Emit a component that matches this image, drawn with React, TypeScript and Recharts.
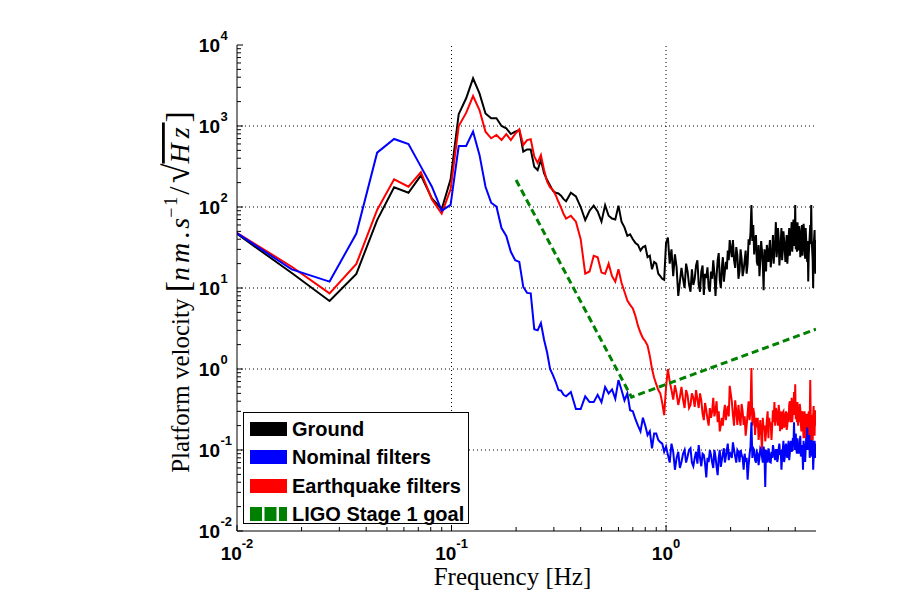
import React from 'react';
import { LineChart, Line, XAxis, YAxis, ReferenceLine, Legend, Label } from 'recharts';

// Frequencies [Hz]
const freq = [
  0.009, 0.018, 0.027, 0.036, 0.045, 0.054, 0.063, 0.072, 0.081, 0.09,
  0.099, 0.108, 0.117, 0.126, 0.135, 0.144, 0.153, 0.162, 0.171, 0.18,
  0.189, 0.198, 0.207, 0.216, 0.225, 0.234, 0.243, 0.252, 0.261, 0.27,
  0.279, 0.288, 0.297, 0.306, 0.315, 0.324, 0.333, 0.342,
  0.36, 0.38, 0.4, 0.42, 0.44, 0.46, 0.48, 0.5, 0.52, 0.54,
  0.56, 0.58, 0.6, 0.62, 0.64, 0.66, 0.68, 0.7, 0.72, 0.74,
  0.76, 0.78, 0.8, 0.82, 0.84, 0.86, 0.88, 0.9, 0.92, 0.94,
  0.96, 0.98, 1.0,
  1.02, 1.04, 1.06, 1.08, 1.1, 1.12, 1.14, 1.16, 1.18, 1.2,
  1.22, 1.24, 1.26, 1.28, 1.3, 1.32, 1.34, 1.36, 1.38, 1.4,
  1.42, 1.44, 1.46, 1.48, 1.5, 1.52, 1.54, 1.56, 1.58, 1.6,
  1.62, 1.64, 1.66, 1.68, 1.7, 1.72, 1.74, 1.76, 1.78, 1.8,
  1.82, 1.84, 1.86, 1.88, 1.9, 1.92, 1.94, 1.96, 1.98,
  2.025, 2.05, 2.075, 2.1, 2.125, 2.15, 2.175, 2.2, 2.225, 2.25,
  2.275, 2.3, 2.325, 2.35, 2.375, 2.4, 2.425, 2.45, 2.475, 2.5,
  2.525, 2.55, 2.575, 2.6, 2.625, 2.65, 2.675, 2.7, 2.725, 2.75,
  2.775, 2.8, 2.825, 2.85, 2.875, 2.9, 2.925, 2.95, 2.975, 3.0,
  3.025, 3.05, 3.075, 3.1, 3.125, 3.15, 3.175, 3.2, 3.225, 3.25,
  3.275, 3.3, 3.325, 3.35, 3.375, 3.4, 3.425, 3.45, 3.475, 3.5,
  3.525, 3.55, 3.575, 3.6, 3.625, 3.65, 3.675, 3.7, 3.725, 3.75,
  3.775, 3.8, 3.825, 3.85, 3.875, 3.9, 3.925, 3.95, 3.975, 4.0,
  4.025, 4.05, 4.075, 4.1, 4.125, 4.15, 4.175, 4.2, 4.225, 4.25,
  4.275, 4.3, 4.325, 4.35, 4.375, 4.4, 4.425, 4.45, 4.475, 4.5,
  4.525, 4.55, 4.575, 4.6, 4.625, 4.65, 4.675, 4.7, 4.725, 4.75,
  4.775, 4.8, 4.825, 4.85, 4.875, 4.9, 4.925, 4.95, 4.975, 5.0,
];

const ground = [
  57, 15.3, 6.9, 14.9, 69, 175, 150, 246, 128, 94,
  220, 1400, 2200, 3880, 2530, 1430, 1245, 1245, 1000, 936,
  796, 851, 892, 482, 513, 513, 315, 286, 380, 261,
  215, 185, 158, 150, 147, 138, 125, 118,
  150, 135, 100, 69, 90, 104, 88, 66, 105, 78,
  72, 70, 104, 66, 56, 44, 46, 40, 36, 34,
  29, 32, 33, 24, 25, 17, 21, 20, 15, 14,
  13, 12.6, 36,
  42, 20, 30, 14, 26, 18, 8, 12, 17.7, 13,
  10, 20, 16, 11, 9, 17, 10.9, 13, 19, 22,
  10.9, 9, 16, 19, 8.2, 15, 13.3, 18, 10, 9,
  16, 13, 22, 15, 8, 14, 22, 27, 12.6, 10,
  17.7, 24, 12, 16, 21, 17, 29, 22, 39,
  24, 39, 22, 17.7, 32, 25.5, 13, 16, 30, 23,
  14, 16.7, 22, 29, 15, 20, 40, 34, 48, 106,
  38, 60, 26, 39, 45, 21, 19, 34, 14, 21,
  38, 29, 20, 9.4, 30, 25.5, 16, 34, 26, 21,
  30, 39, 18, 23, 30, 45, 20, 29, 38, 65,
  24, 31, 55, 41, 19, 25.5, 36, 55, 22, 29,
  50, 39, 30, 21, 33, 45, 20, 27, 40, 55,
  25, 34, 46, 65, 28, 39, 70, 52, 33, 106,
  30, 41, 28, 65, 36, 29, 58, 49, 24, 31,
  44, 60, 25, 34, 62, 49, 32, 23, 55, 39,
  30, 21, 38, 12, 26, 34, 45, 60, 35, 106,
  40, 29, 22, 10, 33, 41, 52, 21, 15, 39,
];

const nominal = [
  57, 17, 12, 47, 469, 692, 600, 315, 178, 90,
  106, 566, 566, 851, 440, 178, 113, 101, 55, 44,
  28, 22, 21, 10.3, 8.7, 8.6, 3.1, 3.0, 3.7, 2.3,
  1.6, 1.0, 0.84, 0.69, 0.55, 0.54, 0.48, 0.46,
  0.52, 0.32, 0.32, 0.46, 0.39, 0.39, 0.48, 0.39, 0.6, 0.5,
  0.56, 0.43, 0.73, 0.55, 0.41, 0.5, 0.31, 0.3, 0.24, 0.2,
  0.17, 0.25, 0.2, 0.153, 0.17, 0.105, 0.16, 0.16, 0.133, 0.125,
  0.12, 0.095, 0.11,
  0.087, 0.07, 0.12, 0.095, 0.057, 0.08, 0.095, 0.06, 0.071, 0.09,
  0.1, 0.07, 0.083, 0.1, 0.105, 0.07, 0.063, 0.08, 0.095, 0.068,
  0.115, 0.08, 0.063, 0.09, 0.087, 0.068, 0.046, 0.08, 0.071, 0.1,
  0.087, 0.07, 0.06, 0.1, 0.083, 0.062, 0.049, 0.08, 0.1, 0.062,
  0.075, 0.09, 0.105, 0.07, 0.083, 0.1, 0.12, 0.075, 0.095,
  0.08, 0.124, 0.1, 0.083, 0.07, 0.1, 0.095, 0.071, 0.1, 0.087,
  0.08, 0.057, 0.09, 0.071, 0.08, 0.043, 0.065, 0.087, 0.11, 0.22,
  0.08, 0.105, 0.1, 0.075, 0.07, 0.095, 0.09, 0.065, 0.08, 0.105,
  0.1, 0.083, 0.07, 0.11, 0.09, 0.035, 0.1, 0.087, 0.07, 0.105,
  0.09, 0.071, 0.07, 0.095, 0.08, 0.115, 0.1, 0.083, 0.075, 0.1,
  0.1, 0.071, 0.08, 0.105, 0.12, 0.087, 0.1, 0.057, 0.08, 0.1,
  0.13, 0.071, 0.08, 0.11, 0.12, 0.087, 0.08, 0.105, 0.13, 0.075,
  0.09, 0.115, 0.13, 0.095, 0.1, 0.14, 0.11, 0.22, 0.1, 0.133,
  0.16, 0.1, 0.09, 0.14, 0.09, 0.11, 0.09, 0.124, 0.15, 0.083,
  0.1, 0.115, 0.09, 0.057, 0.13, 0.1, 0.12, 0.071, 0.1, 0.14,
  0.1, 0.19, 0.1, 0.115, 0.1, 0.153, 0.08, 0.095, 0.1, 0.133,
  0.1, 0.083, 0.13, 0.057, 0.08, 0.115, 0.13, 0.087, 0.08, 0.12,
];

const earthquake = [
  57, 18.3, 8.6, 19.8, 92, 220, 178, 270, 124, 83,
  165, 1000, 1450, 2345, 1576, 851, 705, 774, 671, 796,
  671, 800, 910, 582, 671, 687, 420, 350, 437, 286,
  205, 175, 162, 140, 116, 98, 82, 72,
  78, 66, 40, 15, 16, 25, 24, 15.5, 15, 20,
  14, 12, 17, 11.6, 9, 7, 6.2, 5.6, 4.5, 3.4,
  2.8, 2.4, 2.2, 1.95, 1.45, 1.0, 0.78, 0.65, 0.55, 0.5,
  0.38, 0.27, 0.6,
  1.0, 0.7, 0.55, 0.42, 0.63, 0.5, 0.36, 0.45, 0.6, 0.42,
  0.33, 0.55, 0.47, 0.33, 0.36, 0.5, 0.44, 0.34, 0.55, 0.42,
  0.33, 0.5, 0.41, 0.28, 0.234, 0.38, 0.31, 0.24, 0.2, 0.33,
  0.25, 0.3, 0.44, 0.26, 0.31, 0.4, 0.22, 0.3, 0.17, 0.2,
  0.25, 0.2, 0.29, 0.36, 0.234, 0.3, 0.35, 0.26, 0.62,
  0.4, 0.27, 0.2, 0.41, 0.3, 0.204, 0.36, 0.25, 0.2, 0.37,
  0.3, 0.204, 0.26, 0.15, 0.2, 0.28, 0.4, 0.234, 0.3, 1.03,
  0.2, 0.33, 0.28, 0.153, 0.25, 0.19, 0.25, 0.133, 0.17, 0.234,
  0.16, 0.096, 0.25, 0.177, 0.2, 0.128, 0.16, 0.234, 0.3, 0.14,
  0.25, 0.204, 0.22, 0.133, 0.2, 0.31, 0.22, 0.39, 0.2, 0.33,
  0.3, 0.234, 0.2, 0.36, 0.29, 0.17, 0.3, 0.25, 0.18, 0.29,
  0.3, 0.19, 0.2, 0.27, 0.3, 0.177, 0.2, 0.29, 0.22, 0.36,
  0.4, 0.25, 0.22, 0.44, 0.22, 0.31, 0.3, 0.52, 0.27, 0.65,
  0.24, 0.31, 0.22, 0.39, 0.2, 0.27, 0.22, 0.37, 0.32, 0.204,
  0.17, 0.29, 0.3, 0.19, 0.14, 0.25, 0.3, 0.17, 0.14, 0.234,
  0.28, 0.15, 0.13, 0.204, 0.3, 0.133, 0.24, 0.73, 0.25, 0.087,
  0.27, 0.17, 0.13, 0.27, 0.35, 0.19, 0.15, 0.31, 0.2, 0.25,
];

// LIGO Stage 1 goal
const goalFreq = [0.2, 0.69, 5.0];
const goalValue = [215, 0.45, 3.1];

// Ticks
const xMajorTicks = [0.01, 0.1, 1];
const xTickExponents = ['-2', '-1', '0'];
const xMinorTicks = [0.02, 0.03, 0.04, 0.05, 0.06, 0.07, 0.08, 0.09, 0.2, 0.3, 0.4, 0.5, 0.6, 0.7, 0.8, 0.9, 2, 3, 4];
const yMajorTicks = [0.01, 0.1, 1, 10, 100, 1000, 10000];
const yTickExponents = ['-2', '-1', '0', '1', '2', '3', '4'];
const yMinorTicks = [
  0.02, 0.03, 0.04, 0.05, 0.06, 0.07, 0.08, 0.09,
  0.2, 0.3, 0.4, 0.5, 0.6, 0.7, 0.8, 0.9,
  2, 3, 4, 5, 6, 7, 8, 9,
  20, 30, 40, 50, 60, 70, 80, 90,
  200, 300, 400, 500, 600, 700, 800, 900,
  2000, 3000, 4000, 5000, 6000, 7000, 8000, 9000,
];
const xDomain = [0.01, 5];
const yDomain = [0.01, 10000];
const xGridValues = [0.1, 1];
const yGridValues = [0.1, 1, 10, 100, 1000];

const seriesNames = ['Ground', 'Nominal filters', 'Earthquake filters', 'LIGO Stage 1 goal'];
const seriesColors = ['#000000', '#0000ff', '#ff0000', '#008000'];

const rows = freq.map((f, i) => ({ f, ground: ground[i], nominal: nominal[i], earthquake: earthquake[i] }));
const goalRows = goalFreq.map((f, i) => ({ f, goal: goalValue[i] }));

const SANS = '"Liberation Sans", Arial, Helvetica, sans-serif';
const SERIF = '"Liberation Serif", "Times New Roman", serif';
const MAJOR_LEN = 6;
const MINOR_LEN = 4;

const allXTicks = [...xMajorTicks, ...xMinorTicks];
const allYTicks = [...yMajorTicks, ...yMinorTicks];

function BottomTick(props: any) {
  const { x, y, payload } = props;
  const idx = xMajorTicks.indexOf(payload.value);
  const major = idx >= 0;
  return (
    <g>
      <line x1={x} y1={y} x2={x} y2={y - (major ? MAJOR_LEN : MINOR_LEN)} stroke="#000" strokeWidth={1} />
      {major && (
        <text x={x} y={y + 29} textAnchor="middle" fontFamily={SANS} fontWeight="bold" fontSize={19} fill="#000">
          <tspan>10</tspan>
          <tspan dy={-12} fontSize={13}>{xTickExponents[idx]}</tspan>
        </text>
      )}
    </g>
  );
}

function TopTick(props: any) {
  const { x, y, payload } = props;
  const major = xMajorTicks.indexOf(payload.value) >= 0;
  return <line x1={x} y1={y} x2={x} y2={y + (major ? MAJOR_LEN : MINOR_LEN)} stroke="#000" strokeWidth={1} />;
}

function LeftTick(props: any) {
  const { x, y, payload } = props;
  const idx = yMajorTicks.indexOf(payload.value);
  const major = idx >= 0;
  return (
    <g>
      <line x1={x} y1={y} x2={x + (major ? MAJOR_LEN : MINOR_LEN)} y2={y} stroke="#000" strokeWidth={1} />
      {major && (
        <g>
          <text x={x - 17} y={y + 6.5} textAnchor="end" fontFamily={SANS} fontWeight="bold" fontSize={19} fill="#000">10</text>
          <text x={x - 16.5} y={y - 5} textAnchor="start" fontFamily={SANS} fontWeight="bold" fontSize={13} fill="#000">{yTickExponents[idx]}</text>
        </g>
      )}
    </g>
  );
}

function RightTick(props: any) {
  const { x, y, payload } = props;
  const major = yMajorTicks.indexOf(payload.value) >= 0;
  return <line x1={x} y1={y} x2={x - (major ? MAJOR_LEN : MINOR_LEN)} y2={y} stroke="#000" strokeWidth={1} />;
}

function XTitle(props: any) {
  const vb = props.viewBox || { x: 237, y: 531, width: 579, height: 69 };
  const cx = vb.x + vb.width / 2 - 14;
  return (
    <text x={cx} y={vb.y + 54} textAnchor="middle" fontFamily={SERIF} fontSize={25} fill="#000">
      Frequency [Hz]
    </text>
  );
}

function YTitle(props: any) {
  const vb = props.viewBox || { x: 0, y: 45, width: 237, height: 486 };
  const cx = vb.x + 189;
  const cy = vb.y + vb.height / 2 + 4;
  return (
    <text x={cx} y={cy} transform={`rotate(-90 ${cx} ${cy})`} textAnchor="middle" fontFamily={SERIF} fontSize={25} fill="#000">
      <tspan>{'Platform velocity '}</tspan>
      <tspan fontSize={34}>[</tspan>
      <tspan fontStyle="italic" fontSize={28} letterSpacing={4}>{'nm'}</tspan>
      <tspan fontSize={28} letterSpacing={3}>.</tspan>
      <tspan fontStyle="italic" fontSize={28}>s</tspan>
      <tspan fontSize={18} dy={-12} letterSpacing={2}>{'\u22121'}</tspan>
      <tspan fontSize={30} dy={12} letterSpacing={3}>{'/'}</tspan>
      <tspan fontSize={36}>{'\u221A'}</tspan>
      <tspan fontStyle="italic" fontSize={28} letterSpacing={5} textDecoration="overline">{'Hz'}</tspan>
      <tspan fontSize={34}>]</tspan>
    </text>
  );
}

function LegendBox() {
  return (
    <div
      style={{
        background: '#fff',
        border: '1px solid #000',
        width: 226,
        height: 112,
        paddingTop: 2,
        boxSizing: 'border-box',
        fontFamily: SANS,
      }}
    >
      {seriesNames.map((name, i) => (
        <div key={name} style={{ display: 'flex', alignItems: 'center', height: 28.3, paddingLeft: 6 }}>
          <svg width={37} height={14} style={{ display: 'block', flex: 'none' }}>
            <line
              x1={0}
              y1={7}
              x2={37}
              y2={7}
              stroke={seriesColors[i]}
              strokeWidth={14}
              strokeDasharray={i === 3 ? '12 2.5' : undefined}
            />
          </svg>
          <span style={{ marginLeft: 5, fontWeight: 'bold', fontSize: 20, color: '#000', lineHeight: '20px', whiteSpace: 'nowrap' }}>
            {name}
          </span>
        </div>
      ))}
    </div>
  );
}

export default function App() {
  return (
    <div style={{ position: 'absolute', left: 0, top: 0, width: 900, height: 600, background: '#fff' }}>
      <LineChart width={900} height={600} data={rows} margin={{ top: 45, right: 84, bottom: 0, left: 0 }}>
        <XAxis
          xAxisId="x"
          dataKey="f"
          type="number"
          scale="log"
          domain={xDomain}
          allowDataOverflow
          ticks={allXTicks}
          interval={0}
          height={69}
          tickSize={0}
          tickMargin={0}
          tickLine={false}
          tick={<BottomTick />}
          axisLine={{ stroke: '#000', strokeWidth: 1 }}
        >
          <Label content={<XTitle />} />
        </XAxis>
        <XAxis
          xAxisId="top"
          orientation="top"
          dataKey="f"
          type="number"
          scale="log"
          domain={xDomain}
          allowDataOverflow
          ticks={allXTicks}
          interval={0}
          height={0}
          tickSize={0}
          tickMargin={0}
          tickLine={false}
          tick={<TopTick />}
          axisLine={{ stroke: '#000', strokeWidth: 1 }}
        />
        <YAxis
          yAxisId="y"
          type="number"
          scale="log"
          domain={yDomain}
          allowDataOverflow
          ticks={allYTicks}
          interval={0}
          width={237}
          tickSize={0}
          tickMargin={0}
          tickLine={false}
          tick={<LeftTick />}
          axisLine={{ stroke: '#000', strokeWidth: 1 }}
        >
          <Label content={<YTitle />} />
        </YAxis>
        <YAxis
          yAxisId="right"
          orientation="right"
          type="number"
          scale="log"
          domain={yDomain}
          allowDataOverflow
          ticks={allYTicks}
          interval={0}
          width={0}
          tickSize={0}
          tickMargin={0}
          tickLine={false}
          tick={<RightTick />}
          axisLine={{ stroke: '#000', strokeWidth: 1 }}
        />
        {xGridValues.map((v) => (
          <ReferenceLine key={'gx' + v} xAxisId="x" yAxisId="y" x={v} stroke="#000" strokeWidth={1} strokeDasharray="1 3" />
        ))}
        {yGridValues.map((v) => (
          <ReferenceLine key={'gy' + v} xAxisId="x" yAxisId="y" y={v} stroke="#000" strokeWidth={1} strokeDasharray="1 3" />
        ))}
        <Line
          xAxisId="x"
          yAxisId="y"
          name={seriesNames[0]}
          dataKey="ground"
          stroke={seriesColors[0]}
          strokeWidth={2}
          dot={false}
          activeDot={false}
          isAnimationActive={false}
        />
        <Line
          xAxisId="x"
          yAxisId="y"
          name={seriesNames[2]}
          dataKey="earthquake"
          stroke={seriesColors[2]}
          strokeWidth={2}
          dot={false}
          activeDot={false}
          isAnimationActive={false}
        />
        <Line
          xAxisId="x"
          yAxisId="y"
          name={seriesNames[1]}
          dataKey="nominal"
          stroke={seriesColors[1]}
          strokeWidth={2}
          dot={false}
          activeDot={false}
          isAnimationActive={false}
        />
        <Line
          xAxisId="x"
          yAxisId="y"
          name={seriesNames[3]}
          data={goalRows}
          dataKey="goal"
          stroke={seriesColors[3]}
          strokeWidth={3}
          strokeDasharray="7 4"
          dot={false}
          activeDot={false}
          isAnimationActive={false}
        />
        <Legend
          layout="vertical"
          align="center"
          verticalAlign="middle"
          content={<LegendBox />}
          wrapperStyle={{ left: 243, top: 412 }}
        />
      </LineChart>
    </div>
  );
}
